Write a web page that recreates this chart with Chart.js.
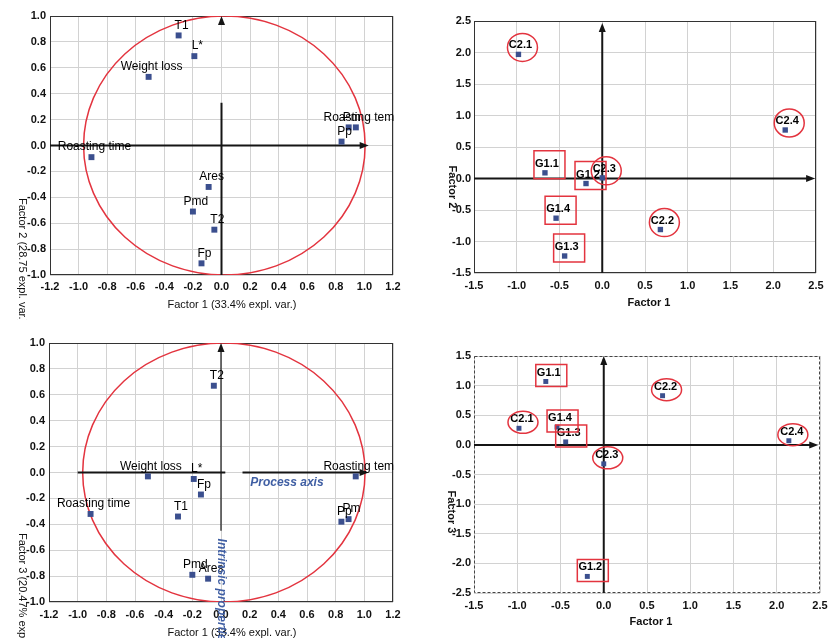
<!DOCTYPE html>
<html><head><meta charset="utf-8">
<script src="https://cdn.jsdelivr.net/npm/chart.js@4"></script>
<style>
html,body{margin:0;padding:0;background:#fff;width:835px;height:638px;overflow:hidden}
canvas{position:absolute}
</style></head><body>
<canvas id="c1" width="420" height="320" style="left:0;top:0"></canvas>
<canvas id="c2" width="415" height="320" style="left:420px;top:0"></canvas>
<canvas id="c3" width="420" height="318" style="left:0;top:320px"></canvas>
<canvas id="c4" width="415" height="318" style="left:420px;top:320px"></canvas>
<script>
// ---------- DATA ----------
const variableNames = ['T1','L*','Weight loss','Roasting time','Ares','Pmd','T2','Fp','Roasting tem','Pm','Pp'];
const varFactor1 = [-0.30,-0.19,-0.51,-0.91,-0.09,-0.20,-0.05,-0.14,0.94,0.89,0.84];
const varFactor2 = [0.85,0.69,0.53,-0.09,-0.32,-0.51,-0.65,-0.91,0.14,0.14,0.03];
const varFactor3 = [-0.34,-0.05,-0.03,-0.32,-0.82,-0.79,0.67,-0.17,-0.03,-0.36,-0.38];

const sampleNames = ['C2.1','C2.2','C2.3','C2.4','G1.1','G1.2','G1.3','G1.4'];
const sampleFactor1 = [-0.98,0.68,0.00,2.14,-0.67,-0.19,-0.44,-0.54];
const sampleFactor2 = [1.97,-0.81,0.01,0.77,0.09,-0.08,-1.23,-0.63];
const sampleFactor3 = [0.28,0.83,-0.32,0.07,1.07,-2.22,0.05,0.30];

const loadingXTicks = [-1.2,-1.0,-0.8,-0.6,-0.4,-0.2,0.0,0.2,0.4,0.6,0.8,1.0,1.2];
const loadingYTicks = [-1.0,-0.8,-0.6,-0.4,-0.2,0.0,0.2,0.4,0.6,0.8,1.0];
const scoreXTicks = [-1.5,-1.0,-0.5,0.0,0.5,1.0,1.5,2.0,2.5];
const score2YTicks = [-1.5,-1.0,-0.5,0.0,0.5,1.0,1.5,2.0,2.5];
const score3YTicks = [-2.5,-2.0,-1.5,-1.0,-0.5,0.0,0.5,1.0,1.5];

// ---------- STYLE ----------
Chart.defaults.font.family = "'Liberation Sans', Arial, Helvetica, sans-serif";
Chart.defaults.color = '#111';
const MARK = '#3b4f8e';
const RED = '#e3343f';
const BLUE = '#3f5ea3';

function pts(xs, ys){ return xs.map((x,i)=>({x:x, y:ys[i]})); }
function fmt(v){ return (Math.abs(v)<1e-9?0:v).toFixed(1); }

function arrowHead(ctx, x, y, dir, len, hw){
  ctx.beginPath();
  if (dir==='h'){ ctx.moveTo(x,y); ctx.lineTo(x-len,y-hw); ctx.lineTo(x-len,y+hw); }
  else { ctx.moveTo(x,y); ctx.lineTo(x-hw,y+len); ctx.lineTo(x+hw,y+len); }
  ctx.closePath(); ctx.fill();
}

const pcaPlugin = {
  id:'pca',
  beforeDatasetsDraw(chart, args, o){
    const ctx = chart.ctx, a = chart.chartArea, X = chart.scales.x, Y = chart.scales.y;
    ctx.save();
    ctx.strokeStyle = o.frameColor; ctx.lineWidth = 1; ctx.setLineDash(o.frameDash || []);
    ctx.strokeRect(Math.round(a.left)+0.5, Math.round(a.top)+0.5, Math.round(a.width)-1, Math.round(a.height)-1);
    ctx.setLineDash([]);
    ctx.beginPath(); ctx.rect(a.left, a.top, a.width, a.height); ctx.clip();
    if (o.circle){
      const cx = X.getPixelForValue(o.circle.cx), cy = Y.getPixelForValue(0);
      const rx = Math.abs(X.getPixelForValue(o.circle.cx + o.circle.r) - cx);
      const ry = Math.abs(Y.getPixelForValue(1) - cy);
      ctx.beginPath(); ctx.ellipse(cx, cy, rx, ry, 0, 0, Math.PI*2);
      ctx.strokeStyle = RED; ctx.lineWidth = 1.5; ctx.stroke();
    }
    ctx.strokeStyle = '#151515'; ctx.fillStyle = '#151515';
    for (const s of o.segments){
      ctx.lineWidth = s.lw;
      ctx.beginPath();
      if (s.dir==='h'){
        const yy = Y.getPixelForValue(0);
        ctx.moveTo(X.getPixelForValue(s.from), yy); ctx.lineTo(X.getPixelForValue(s.to), yy);
      } else {
        const xx = X.getPixelForValue(0);
        ctx.moveTo(xx, Y.getPixelForValue(s.from)); ctx.lineTo(xx, Y.getPixelForValue(s.to));
      }
      ctx.stroke();
    }
    for (const ar of o.arrows){
      if (ar.dir==='h') arrowHead(ctx, X.getPixelForValue(ar.at), Y.getPixelForValue(0), 'h', 9, 3.5);
      else arrowHead(ctx, X.getPixelForValue(0), Y.getPixelForValue(ar.at), 'v', 9, 3.5);
    }
    ctx.restore();
  },
  afterDatasetsDraw(chart, args, o){
    const ctx = chart.ctx;
    const meta = chart.getDatasetMeta(0);
    ctx.save();
    ctx.font = o.labelFont; ctx.fillStyle = '#000'; ctx.textAlign = 'center'; ctx.textBaseline = 'middle';
    meta.data.forEach((el, i) => {
      ctx.fillText(o.names[i], el.x + o.labelDx, el.y + o.labelDy);
    });
    if (o.shapes){
      const sh = o.shapes;
      ctx.strokeStyle = RED; ctx.lineWidth = 1.5;
      meta.data.forEach((el, i) => {
        ctx.beginPath();
        if (o.names[i].charAt(0) === 'C'){
          ctx.ellipse(el.x + sh.cdx, el.y + sh.cdy, sh.rx, sh.ry, 0, 0, Math.PI*2);
        } else {
          ctx.rect(el.x + sh.l, el.y + sh.t, sh.r - sh.l, sh.b - sh.t);
        }
        ctx.stroke();
      });
    }
    ctx.restore();
  },
  afterDraw(chart, args, o){
    const ctx = chart.ctx, X = chart.scales.x, Y = chart.scales.y;
    ctx.save();
    const all = [];
    for (const t of o.titles) all.push(Object.assign({}, t));
    for (const t of (o.notes||[])) all.push(Object.assign({}, t, {x: X.getPixelForValue(t.xv), y: Y.getPixelForValue(t.yv)}));
    for (const t of all){
      ctx.save();
      ctx.font = t.font; ctx.fillStyle = t.color || '#111';
      ctx.textAlign = t.align || 'center'; ctx.textBaseline = 'middle';
      ctx.translate(t.x, t.y);
      if (t.rot) ctx.rotate(Math.PI/2);
      ctx.fillText(t.text, 0, 0);
      ctx.restore();
    }
    ctx.restore();
  }
};

function makeChart(id, xs, ys, xTicks, yTicks, L, plug, pointR){
  return new Chart(document.getElementById(id), {
    type:'scatter',
    data:{datasets:[{data: pts(xs, ys), pointStyle:'rect', pointRadius:pointR, pointHoverRadius:pointR,
      backgroundColor:MARK, borderColor:MARK, borderWidth:0}]},
    options:{
      responsive:false, animation:false, events:[],
      layout:{padding:{left:0, top:L.top, right:L.right, bottom:0}},
      plugins:{legend:{display:false}, tooltip:{enabled:false}, pca: plug},
      scales:{
        x:{type:'linear', position:'bottom', min:xTicks[0], max:xTicks[xTicks.length-1],
          afterBuildTicks: s => { s.ticks = xTicks.map(v => ({value:v})); },
          afterFit: s => { s.height = L.xh; },
          ticks:{callback: v => fmt(v), padding:L.xpad, font:{size:11, weight:'bold'}, color:'#111', maxRotation:0, autoSkip:false},
          grid:{color:'#d2d2d2', drawTicks:false, lineWidth:1},
          border:{display:false}},
        y:{type:'linear', position:'left', min:yTicks[0], max:yTicks[yTicks.length-1],
          afterBuildTicks: s => { s.ticks = yTicks.map(v => ({value:v})); },
          afterFit: s => { s.width = L.yw; },
          ticks:{callback: v => fmt(v), padding:L.ypad, font:{size:11, weight:'bold'}, color:'#111', autoSkip:false},
          grid:{color:'#d2d2d2', drawTicks:false, lineWidth:1},
          border:{display:false}}
      }
    },
    plugins:[pcaPlugin]
  });
}

const plainLabel = "12px 'Liberation Sans', Arial, sans-serif";
const boldLabel = "bold 11px 'Liberation Sans', Arial, sans-serif";
const titleFont = "11px 'Liberation Sans', Arial, sans-serif";
const boldTitle = "bold 11px 'Liberation Sans', Arial, sans-serif";
const noteFont = "italic bold 12px 'Liberation Sans', Arial, sans-serif";

// Panel 1: loadings Factor 1 vs Factor 2
makeChart('c1', varFactor1, varFactor2, loadingXTicks, loadingYTicks,
  {top:16, right:27, xh:45, yw:50, xpad:5, ypad:4},
  {names: variableNames, labelFont: plainLabel, labelDx:3, labelDy:-10, frameColor:'#333',
   circle:{cx:0.02, r:0.985},
   segments:[{dir:'h', from:-1.2, to:0.98, lw:2},{dir:'v', from:-1.0, to:0.33, lw:2}],
   arrows:[{dir:'h', at:1.03},{dir:'v', at:1.0}],
   titles:[{text:'Factor 1 (33.4% expl. var.)', x:232, y:305, font:titleFont},
           {text:'Factor 2 (28.75 expl. var.)', x:22, y:198, rot:true, align:'left', font:titleFont}]}, 4.2);

// Panel 2: scores Factor 1 vs Factor 2
makeChart('c2', sampleFactor1, sampleFactor2, scoreXTicks, score2YTicks,
  {top:21, right:19, xh:47, yw:54, xpad:6, ypad:3},
  {names: sampleNames, labelFont: boldLabel, labelDx:2, labelDy:-9, frameColor:'#333',
   shapes:{cdx:4, cdy:-7, rx:15, ry:14, l:-11, r:20, t:-22, b:6},
   segments:[{dir:'h', from:-1.5, to:2.42, lw:2},{dir:'v', from:-1.5, to:2.35, lw:2}],
   arrows:[{dir:'h', at:2.49},{dir:'v', at:2.47}],
   titles:[{text:'Factor 1', x:229, y:303, font:boldTitle},
           {text:'Factor 2', x:32, y:187, rot:true, font:boldTitle}]}, 3.8);

// Panel 3: loadings Factor 1 vs Factor 3
makeChart('c3', varFactor1, varFactor3, loadingXTicks, loadingYTicks,
  {top:23, right:27, xh:36, yw:49, xpad:6, ypad:4},
  {names: variableNames, labelFont: plainLabel, labelDx:3, labelDy:-10, frameColor:'#333',
   circle:{cx:0.02, r:0.985},
   segments:[{dir:'h', from:-1.0, to:0.03, lw:2},{dir:'h', from:0.15, to:0.98, lw:2},{dir:'v', from:-0.45, to:0.95, lw:1.2}],
   arrows:[{dir:'h', at:1.03},{dir:'v', at:1.0}],
   titles:[{text:'Factor 1 (33.4% expl. var.)', x:232, y:313, font:titleFont},
           {text:'Factor 3 (20.47% expl. var.)', x:22, y:213, rot:true, align:'left', font:titleFont}],
   notes:[{text:'Process axis', xv:0.46, yv:-0.08, font:noteFont, color:BLUE},
          {text:'Intrinsic properties', xv:0, yv:-0.51, rot:true, align:'left', font:noteFont, color:BLUE}]}, 4.2);

// Panel 4: scores Factor 1 vs Factor 3
makeChart('c4', sampleFactor1, sampleFactor3, scoreXTicks, score3YTicks,
  {top:36, right:15, xh:45, yw:54, xpad:6, ypad:3},
  {names: sampleNames, labelFont: boldLabel, labelDx:3, labelDy:-9, frameColor:'#444', frameDash:[3,2],
   shapes:{cdx:4, cdy:-6, rx:15, ry:11, l:-10, r:21, t:-17, b:5},
   segments:[{dir:'h', from:-1.5, to:2.42, lw:2},{dir:'v', from:-2.5, to:1.45, lw:2}],
   arrows:[{dir:'h', at:2.48},{dir:'v', at:1.5}],
   titles:[{text:'Factor 1', x:231, y:302, font:boldTitle},
           {text:'Factor 3', x:31, y:192, rot:true, font:boldTitle}]}, 3.5);
</script>
</body></html>
